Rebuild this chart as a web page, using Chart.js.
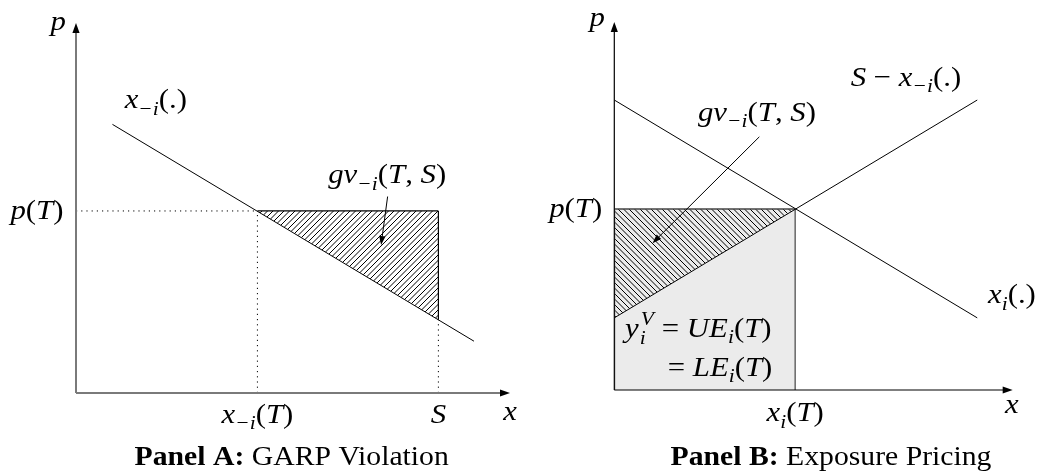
<!DOCTYPE html>
<html><head><meta charset="utf-8">
<script src="https://cdn.jsdelivr.net/npm/chart.js@4/dist/chart.umd.min.js"></script>
<style>
html,body{margin:0;padding:0;background:#fff;}
#wrap{position:relative;width:1038px;height:475px;overflow:hidden;}
.c{position:absolute;top:0;width:519px;height:475px;}
</style></head><body>
<div id="wrap">
<div class="c" style="left:0"><canvas id="ca"></canvas></div>
<div class="c" style="left:519px"><canvas id="cb"></canvas></div>
</div>
<script>
// ---------- DATA ----------
// Panel A: residual demand x_{-i}(.)
const aDemandX = [0.84, 9.17];
const aDemandP = [7.26, 1.40];
const aMarketX = [4.18, 8.35];   // x_{-i}(T), S
const aMarketP = [4.92, 1.98];   // p(T), price on x_{-i}(.) at S
const aArrowX = [7.18, 7.03];
const aArrowP = [5.31, 4.00];
// Panel B
const bDemandX = [0, 9.11];      // x_i(.)
const bDemandP = [7.88, 1.96];
const bSupplyX = [0, 9.11];      // S - x_{-i}(.)
const bSupplyP = [1.96, 7.88];
const bEquilX = [4.54];          // x_i(T)
const bEquilP = [4.92];          // p(T)
const bArrowX = [3.64, 0.96];
const bArrowP = [6.88, 3.99];
const axisMin = [0, 0];
const axisMax = [10, 10];

// ---------- helpers ----------
const FONT = '"Liberation Serif","Times New Roman",serif';
const FS = 28;
const SX = 1.1;   // horizontal stretch to mimic the wider TeX font
function hatch(dir){
  const p = 11, c = document.createElement('canvas'); c.width = p; c.height = p;
  const g = c.getContext('2d'); g.strokeStyle = '#000'; g.lineWidth = 1;
  for (let k = -4; k <= 6; k++){
    const o = k * p / 2;
    g.beginPath();
    if (dir > 0){ g.moveTo(o + 3, -3); g.lineTo(o - p - 3, p + 3); }
    else { g.moveTo(o - 3, -3); g.lineTo(o + p + 3, p + 3); }
    g.stroke();
  }
  return g.createPattern(c, 'repeat');
}
function pts(xs, ys){ return xs.map((x, i) => ({x: x, y: ys[i]})); }
function setF(ctx, k, s){
  if (k === 'B') ctx.font = `bold ${s}px ${FONT}`;
  else if (k === 'r') ctx.font = `${s}px ${FONT}`;
  else ctx.font = `italic ${s}px ${FONT}`;
}
function partW(ctx, part, fs){
  const [t, k] = part;
  if (k === 's'){ setF(ctx, 'i', fs*0.7); return (Math.max(ctx.measureText(t[0]).width, ctx.measureText(t[1]).width) + 2) * SX; }
  const s = (k === 'b' || k === 'p') ? fs*0.7 : fs;
  setF(ctx, k, s); return ctx.measureText(t).width * SX;
}
function txt(ctx, t, x, y){
  ctx.save(); ctx.translate(x, y); ctx.scale(SX, 1); ctx.fillText(t, 0, 0); ctx.restore();
}
function drawMath(ctx, parts, x, yc, fs, align){
  let w = 0; parts.forEach(p => w += partW(ctx, p, fs));
  let cx = align === 'left' ? x : (align === 'right' ? x - w : x - w/2);
  const base = yc + 0.3*fs;
  ctx.textAlign = 'left'; ctx.textBaseline = 'alphabetic'; ctx.fillStyle = '#000';
  parts.forEach(p => {
    const [t, k] = p; const pw = partW(ctx, p, fs);
    if (k === 's'){ setF(ctx, 'i', fs*0.7); txt(ctx, t[0], cx + 1, base + 0.25*fs); txt(ctx, t[1], cx + 2, base - 0.42*fs); }
    else if (k === 'b'){ setF(ctx, 'i', fs*0.7); txt(ctx, t, cx, base + 0.22*fs); }
    else if (k === 'p'){ setF(ctx, 'i', fs*0.7); txt(ctx, t, cx, base - 0.42*fs); }
    else { setF(ctx, k, fs); txt(ctx, t, cx, base); }
    cx += pw;
  });
}
function arrow(ctx, x1, y1, x2, y2, color, lw, len, half){
  const a = Math.atan2(y2 - y1, x2 - x1);
  const bx = x2 - len*Math.cos(a), by = y2 - len*Math.sin(a);
  ctx.strokeStyle = color; ctx.lineWidth = lw;
  ctx.beginPath(); ctx.moveTo(x1, y1); ctx.lineTo(bx + 0.5*Math.cos(a), by + 0.5*Math.sin(a)); ctx.stroke();
  ctx.fillStyle = '#000';
  ctx.beginPath(); ctx.moveTo(x2, y2);
  ctx.lineTo(bx + half*Math.sin(a), by - half*Math.cos(a));
  ctx.lineTo(bx - half*Math.sin(a), by + half*Math.cos(a));
  ctx.closePath(); ctx.fill();
}
const annot = {
  id: 'annot',
  afterDatasetsDraw(chart, args, o){
    const ctx = chart.ctx, X = chart.scales.x, Y = chart.scales.y;
    const px = v => X.getPixelForValue(v), py = v => Y.getPixelForValue(v);
    ctx.save();
    const ox = px(axisMin[0]), oy = py(axisMin[1]);
    arrow(ctx, ox, oy, px(axisMax[0]), oy, o.axisColor, o.axisWidth, 10, 3.6);
    arrow(ctx, ox, oy, ox, py(axisMax[1]), o.axisColor, o.axisWidth, 10, 3.6);
    arrow(ctx, px(o.arrow.x[0]), py(o.arrow.y[0]), px(o.arrow.x[1]), py(o.arrow.y[1]), '#000', 1, 9, 3.2);
    o.labels.forEach(l => drawMath(ctx, l.parts, px(l.x), py(l.y), l.fs || FS, l.align || 'center'));
    ctx.restore();
  }
};
function baseOpts(pad, o){
  return {
    responsive: true, maintainAspectRatio: false, animation: false, devicePixelRatio: 1,
    layout: {padding: pad},
    elements: {point: {radius: 0, hoverRadius: 0}, line: {tension: 0}},
    scales: {
      x: {type: 'linear', display: false, min: axisMin[0], max: axisMax[0]},
      y: {type: 'linear', display: false, min: axisMin[1], max: axisMax[1]}
    },
    plugins: {legend: {display: false}, tooltip: {enabled: false}, annot: o}
  };
}
const M = '\u2212';
const dotted = {borderColor: '#000', borderWidth: 1, borderDash: [1.2, 4], showLine: true, fill: false, order: 3};

// ---------- Panel A ----------
const aXT = aMarketX[0], aS = aMarketX[1], aPT = aMarketP[0], aPS = aMarketP[1];
new Chart(document.getElementById('ca'), {
  type: 'scatter',
  data: {datasets: [
    {data: [{x: aXT, y: aPT}, {x: aS, y: aPT}], showLine: true, borderColor: '#000', borderWidth: 1.2, fill: '+1', backgroundColor: hatch(1), order: 5},
    {data: [{x: aXT, y: aPT}, {x: aS, y: aPS}], showLine: true, borderWidth: 0, borderColor: 'rgba(0,0,0,0)', fill: false, order: 6},
    {data: [{x: aS, y: aPT}, {x: aS, y: aPS}], showLine: true, borderColor: '#000', borderWidth: 1.2, fill: false, order: 1},
    {data: pts(aDemandX, aDemandP), showLine: true, borderColor: '#000', borderWidth: 1, fill: false, order: 1},
    Object.assign({data: [{x: 0, y: aPT}, {x: aXT, y: aPT}]}, dotted),
    Object.assign({data: [{x: aXT, y: 0}, {x: aXT, y: aPT}]}, dotted),
    Object.assign({data: [{x: aS, y: 0}, {x: aS, y: aPS}]}, dotted)
  ]},
  options: baseOpts({left: 76, right: 9, top: 23, bottom: 82}, {
    axisColor: '#7a7a7a', axisWidth: 2,
    arrow: {x: aArrowX, y: aArrowP},
    labels: [
      {parts: [['p', 'i']], x: -0.41, y: 10.03},
      {parts: [['x', 'i'], [M + 'i', 'b'], ['(.)', 'r']], x: 1.84, y: 7.92},
      {parts: [['gv', 'i'], [M + 'i', 'b'], ['(', 'r'], ['T', 'i'], [', ', 'r'], ['S', 'i'], [')', 'r']], x: 7.17, y: 5.89},
      {parts: [['p', 'i'], ['(', 'r'], ['T', 'i'], [')', 'r']], x: -0.9, y: aPT},
      {parts: [['x', 'i'], [M + 'i', 'b'], ['(', 'r'], ['T', 'i'], [')', 'r']], x: aXT, y: -0.59},
      {parts: [['S', 'i']], x: aS, y: -0.59},
      {parts: [['x', 'i']], x: 10, y: -0.49},
      {parts: [['Panel A:', 'B'], [' GARP Violation', 'r']], x: 4.97, y: -1.73, fs: 27}
    ]
  }),
  plugins: [annot]
});

// ---------- Panel B ----------
const bXT = bEquilX[0], bPT = bEquilP[0];
new Chart(document.getElementById('cb'), {
  type: 'scatter',
  data: {datasets: [
    {data: [{x: 0, y: bPT}, {x: bXT, y: bPT}], showLine: true, borderWidth: 0, borderColor: 'rgba(0,0,0,0)', fill: 'origin', backgroundColor: '#ebebeb', order: 10},
    {data: [{x: 0, y: bPT}, {x: bXT, y: bPT}], showLine: true, borderColor: '#444', borderWidth: 1.4, fill: '+1', backgroundColor: hatch(-1), order: 8},
    {data: [{x: bSupplyX[0], y: bSupplyP[0]}, {x: bXT, y: bPT}], showLine: true, borderWidth: 0, borderColor: 'rgba(0,0,0,0)', fill: false, order: 9},
    {data: [{x: bXT, y: 0}, {x: bXT, y: bPT}], showLine: true, borderColor: '#666', borderWidth: 1.5, fill: false, order: 2},
    {data: [{x: 0, y: 0}, {x: 0, y: bPT}], showLine: true, borderColor: '#888', borderWidth: 2, fill: false, order: 2},
    {data: pts(bDemandX, bDemandP), showLine: true, borderColor: '#000', borderWidth: 1, fill: false, order: 1},
    {data: pts(bSupplyX, bSupplyP), showLine: true, borderColor: '#000', borderWidth: 1, fill: false, order: 1}
  ]},
  options: baseOpts({left: 95.3, right: 25.3, top: 22, bottom: 85}, {
    axisColor: '#000', axisWidth: 1.2,
    arrow: {x: bArrowX, y: bArrowP},
    labels: [
      {parts: [['p', 'i']], x: -0.43, y: 10.11},
      {parts: [['S', 'i'], [' ' + M + ' ', 'r'], ['x', 'i'], [M + 'i', 'b'], ['(.)', 'r']], x: 7.32, y: 8.48},
      {parts: [['gv', 'i'], [M + 'i', 'b'], ['(', 'r'], ['T', 'i'], [', ', 'r'], ['S', 'i'], [')', 'r']], x: 3.58, y: 7.53},
      {parts: [['p', 'i'], ['(', 'r'], ['T', 'i'], [')', 'r']], x: -0.97, y: bPT},
      {parts: [['x', 'i'], ['i', 'b'], ['(.)', 'r']], x: 9.98, y: 2.58},
      {parts: [['y', 'i'], [['i', 'V'], 's'], [' = ', 'r'], ['UE', 'i'], ['i', 'b'], ['(', 'r'], ['T', 'i'], [')', 'r']], x: 0.27, y: 1.68, align: 'left'},
      {parts: [['= ', 'r'], ['LE', 'i'], ['i', 'b'], ['(', 'r'], ['T', 'i'], [')', 'r']], x: 1.34, y: 0.60, align: 'left'},
      {parts: [['x', 'i'], ['i', 'b'], ['(', 'r'], ['T', 'i'], [')', 'r']], x: bXT, y: -0.625},
      {parts: [['x', 'i']], x: 9.98, y: -0.41},
      {parts: [['Panel B:', 'B'], [' Exposure Pricing', 'r']], x: 5.44, y: -1.82, fs: 27}
    ]
  }),
  plugins: [annot]
});
</script>
</body></html>
